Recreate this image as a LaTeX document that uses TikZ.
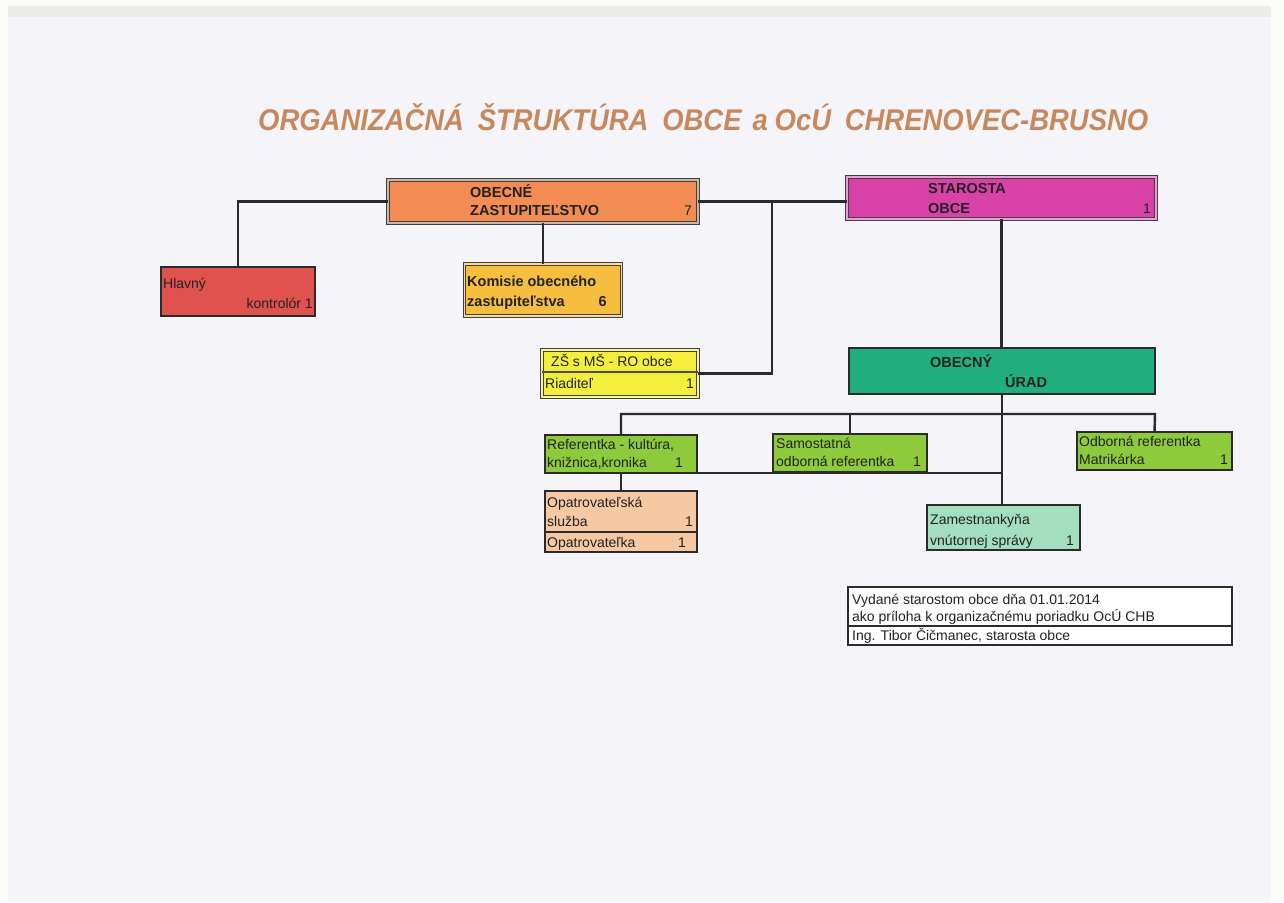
\documentclass[tikz,border=0pt]{standalone}
\usepackage{fontspec}
\setmainfont{Liberation Sans}
\usetikzlibrary{calc}
\definecolor{pagebg}{HTML}{F5F5F9}
\definecolor{stripbg}{HTML}{ECEDE8}
\definecolor{edgebg}{HTML}{FBFBF9}
\definecolor{titlec}{HTML}{C8885E}
\definecolor{linec}{HTML}{2B2B2B}
\definecolor{txtc}{HTML}{222222}
\definecolor{czast}{HTML}{F28C52}
\definecolor{cstar}{HTML}{D842A8}
\definecolor{chlav}{HTML}{E0524E}
\definecolor{ckom}{HTML}{F5BE3E}
\definecolor{czs}{HTML}{F4EE3C}
\definecolor{curad}{HTML}{22AF7F}
\definecolor{cgreen}{HTML}{8DCB3C}
\definecolor{copat}{HTML}{F6C9A3}
\definecolor{czam}{HTML}{A2DEBF}
\begin{document}
\begin{tikzpicture}[x=1pt,y=-1pt,
  box/.style={draw=linec, line width=2.2pt, inner sep=0pt, outer sep=0pt},
  dbox/.style={draw=black!75, line width=1.1pt, double=#1, double distance=1.5pt, inner sep=0pt, outer sep=0pt},
  wire/.style={draw=linec, line width=2.4pt},
  lbl/.style={anchor=base west, inner sep=0pt, text=txtc, font=\fontsize{14}{16}\selectfont},
  lblr/.style={anchor=base east, inner sep=0pt, text=txtc, font=\fontsize{14}{16}\selectfont},
  blbl/.style={lbl, font=\fontsize{14.5}{16}\selectfont\bfseries},
  blblr/.style={lblr, font=\fontsize{14.5}{16}\selectfont\bfseries}]
% page
\fill[edgebg] (0,0) rectangle (1284,902);
\fill[pagebg] (8,6) rectangle (1271,902);
\fill[stripbg] (8,6) rectangle (1271,17);
\useasboundingbox (0,0) rectangle (1284,902);

% title
\node[anchor=base west, inner sep=0pt, text=titlec, font=\fontsize{30}{32}\selectfont\bfseries\itshape] (title) at (258,130)
  {\scalebox{0.915}[1]{ORGANIZAČNÁ\hspace{0.5em}ŠTRUKTÚRA\hspace{0.5em}OBCE\hspace{0.4em}a\hspace{0.25em}OcÚ\hspace{0.5em}CHRENOVEC-BRUSNO}};

% boxes
\node[dbox=czast!50!black!40!white, fill=czast, minimum width=310, minimum height=43] (zast) at (543,201.5) {};
\node[dbox=cstar!50!white, fill=cstar, minimum width=309, minimum height=42] (star) at (1001.5,198) {};
\node[box, fill=chlav, minimum width=154, minimum height=49] (hlav) at (238,291.5) {};
\node[dbox=ckom!55!white, fill=ckom, minimum width=157, minimum height=52] (kom) at (543,290) {};
\node[dbox=czs!55!white, fill=czs, minimum width=156, minimum height=47] (zs) at (620,373.5) {};
\node[box, fill=curad, minimum width=306, minimum height=46] (urad) at (1002,371) {};
\node[box, fill=cgreen, minimum width=152, minimum height=38] (ref) at (621,454) {};
\node[box, fill=cgreen, minimum width=154, minimum height=38] (sam) at (850,453) {};
\node[box, fill=cgreen, minimum width=155, minimum height=38] (odb) at (1154.5,451) {};
\node[box, fill=copat, minimum width=152, minimum height=61] (opat) at (621,521.5) {};
\node[box, fill=czam, minimum width=153, minimum height=45] (zam) at (1003.5,527.5) {};
\node[box, fill=white, line width=1.8pt, minimum width=384, minimum height=58] (vyd) at (1040,616) {};

% inner dividers
\draw[draw=black!70, line width=1.6pt] ($(zs.west)+(0,-1.5)$) -- ($(zs.east)+(0,-1.5)$);
\draw[linec, line width=2pt] ($(opat.south west)+(0,-20)$) -- ($(opat.south east)+(0,-20)$);
\draw[linec, line width=1.6pt] ($(vyd.south west)+(0,-19)$) -- ($(vyd.south east)+(0,-19)$);

% connectors
\coordinate (j1) at (772,201.5);
\coordinate (busR) at (1155,414);
\draw[wire] (zast.east) -- (zast.east -| star.west);
\draw[wire] (j1) |- (zs.east);
\draw[wire] (zast.west) -| (hlav.north);
\draw[wire] (zast.south) -- (zast.south |- kom.north);
\draw[wire] (star.south) -- (star.south |- urad.north);
\draw[wire] (urad.south) -- (urad.south |- zam.north);
\draw[wire] (ref.north) |- (busR) -- (odb.north);
\draw[wire] (sam.north) -- (sam.north |- busR);
\draw[wire] (ref.south) -- (ref.south -| urad.south);
\draw[wire] (ref.south) -- (opat.north);

% texts
\node[blbl] (t1) at (470,197) {OBECNÉ};
\node[blbl] (t2) at (470,215) {ZASTUPITEĽSTVO};
\node[lblr] (t3) at (692,215) {7};
\node[blbl] (t4) at (928,193) {STAROSTA};
\node[blbl] (t5) at (928,213) {OBCE};
\node[lblr] (t6) at (1151,213) {1};
\node[lbl] (t7) at (163,288) {Hlavný};
\node[lblr] (t8) at (313,308) {kontrolór 1};
\node[blbl] (t9) at (467,286) {Komisie obecného};
\node[blbl] (t10) at (467,306) {zastupiteľstva};
\node[blblr] (t11) at (607,306) {6};
\node[lbl] (t12) at (551,366) {ZŠ s MŠ - RO obce};
\node[lbl] (t13) at (545,388) {Riaditeľ};
\node[lblr] (t14) at (694,388) {1};
\node[blbl] (t15) at (930,367) {OBECNÝ};
\node[blbl] (t16) at (1005,387) {ÚRAD};
\node[lbl] (t17) at (547,449) {Referentka - kultúra,};
\node[lbl] (t18) at (547,467) {knižnica,kronika};
\node[lblr] (t19) at (683,467) {1};
\node[lbl] (t20) at (776,448) {Samostatná};
\node[lbl] (t21) at (776,466) {odborná referentka};
\node[lblr] (t22) at (921,466) {1};
\node[lbl] (t23) at (1079,446) {Odborná referentka};
\node[lbl] (t24) at (1079,464) {Matrikárka};
\node[lblr] (t25) at (1228,464) {1};
\node[lbl] (t26) at (547,507) {Opatrovateľská};
\node[lbl] (t27) at (547,526) {služba};
\node[lblr] (t28) at (693,526) {1};
\node[lbl] (t29) at (547,547) {Opatrovateľka};
\node[lblr] (t30) at (686,547) {1};
\node[lbl] (t31) at (930,524) {Zamestnankyňa};
\node[lbl] (t32) at (930,545) {vnútornej správy};
\node[lblr] (t33) at (1074,545) {1};
\node[lbl] (t34) at (852,604) {Vydané starostom obce dňa 01.01.2014};
\node[lbl] (t35) at (852,621) {ako príloha k organizačnému poriadku OcÚ CHB};
\node[lbl] (t36) at (852,640) {Ing. Tibor Čičmanec, starosta obce};
\end{tikzpicture}
\end{document}
